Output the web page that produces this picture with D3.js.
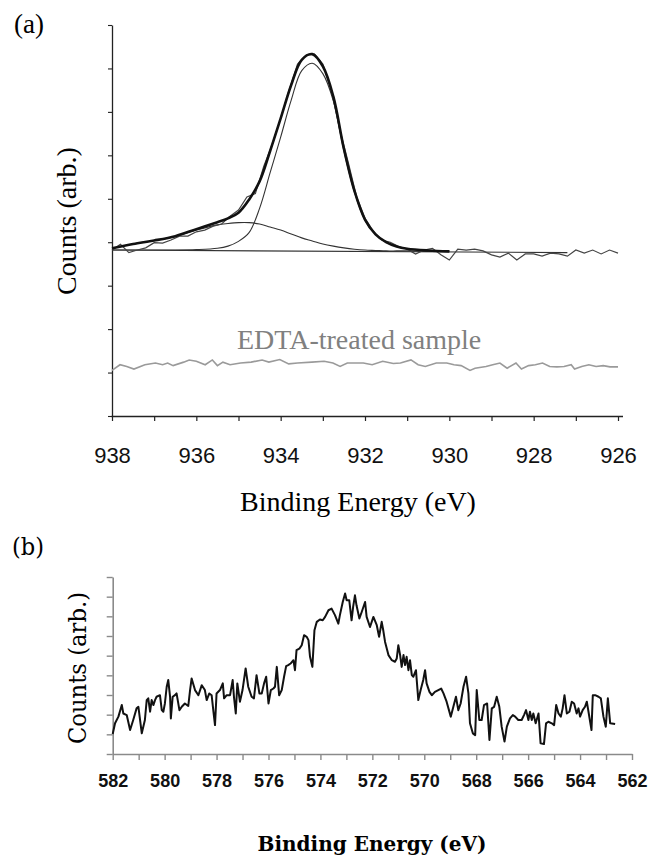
<!DOCTYPE html>
<html lang="en">
<head>
<meta charset="utf-8">
<title>XPS spectra</title>
<script src="https://d3js.org/d3.v7.min.js"></script>
<style>
  body { margin: 0; background: #fff; }
  .serifA { font-family: "Liberation Serif", "Times New Roman", serif; }
  .serifB { font-family: "DejaVu Serif", serif; }
  .sans { font-family: "Liberation Sans", Arial, sans-serif; }
</style>
</head>
<body>
<svg width="656" height="859"></svg>
<script>
// ---- panel (a): Cu 2p3/2 region ----
const xTicksA = [938, 937, 936, 935, 934, 933, 932, 931, 930, 929, 928, 927, 926];
const yTicksA = [0, 1, 2, 3, 4, 5, 6, 7, 8, 9];

// raw spectrum, [binding energy, counts]
const rawA = [
  [938.0,3.82],[937.8,3.95],[937.6,3.76],[937.4,3.82],[937.2,3.87],[937.0,3.99],[936.8,3.98],[936.6,4.05],
  [936.4,4.14],[936.2,4.14],[936.0,4.24],[935.8,4.28],[935.6,4.37],[935.4,4.42],[935.2,4.60],[935.0,4.74],
  [934.8,5.04],[934.6,5.12],[934.4,5.75],[934.2,6.25],[934.0,6.85],[933.8,7.50],[933.6,8.10],[933.4,8.30],
  [933.2,8.33],[933.0,8.10],[932.8,7.50],[932.6,6.60],[932.4,5.85],[932.2,5.05],[932.0,4.55],[931.8,4.25],
  [931.6,4.05],[931.4,4.00],[931.2,3.90],[931.0,3.84],[930.8,3.73],[930.6,3.82],[930.4,3.86],[930.2,3.71],
  [930.0,3.59],[929.8,3.84],[929.6,3.82],[929.4,3.84],[929.2,3.80],[929.0,3.71],[928.8,3.66],[928.6,3.75],
  [928.4,3.59],[928.2,3.73],[928.0,3.73],[927.8,3.68],[927.6,3.75],[927.4,3.73],[927.2,3.68],[927.0,3.82],
  [926.8,3.75],[926.6,3.82],[926.4,3.73],[926.2,3.82],[926.0,3.75]
];

// fit: energies and the fitted curves
const fitE      = [938, 937.5, 937, 936.5, 936, 935.5, 935.25, 935, 934.75, 934.5, 934.25, 934, 933.75,
                   933.5, 933.25, 933, 932.75, 932.5, 932.25, 932, 931.75, 931.5, 931.25, 931, 930.5, 930];
const fitMain   = [3.82, 3.82, 3.82, 3.82, 3.83, 3.86, 3.91, 4.02, 4.22, 4.78, 5.60, 6.42, 7.27,
                   7.95, 8.12, 7.88, 7.25, 6.10, 5.15, 4.50, 4.18, 4.00, 3.90, 3.85, 3.81, 3.80];
const fitShoulder = [3.86, 3.96, 4.04, 4.13, 4.28, 4.40, 4.43, 4.45, 4.45, 4.42, 4.35, 4.28, 4.19,
                   4.10, 4.03, 3.96, 3.91, 3.87, 3.84, 3.82, 3.81, 3.80, 3.80, 3.80, 3.79, 3.79];
const fitSum    = [3.86, 3.96, 4.04, 4.14, 4.30, 4.46, 4.55, 4.68, 4.98, 5.40, 6.10, 6.85, 7.62,
                   8.20, 8.33, 8.05, 7.35, 6.15, 5.18, 4.52, 4.18, 4.00, 3.90, 3.85, 3.81, 3.79];
const backgroundA = [[938, 3.82], [927.2, 3.76]];

// EDTA-treated sample
const edta = [
  [938.00,1.05],[937.81,1.18],[937.65,1.14],[937.48,1.08],[937.22,1.18],[936.97,1.22],[936.80,1.18],[936.68,1.22],
  [936.55,1.16],[936.30,1.24],[936.17,1.29],[936.00,1.26],[935.79,1.18],[935.62,1.29],[935.50,1.16],[935.37,1.24],
  [935.20,1.18],[934.95,1.22],[934.70,1.24],[934.44,1.29],[934.28,1.24],[934.02,1.30],[933.81,1.20],[933.60,1.22],
  [933.26,1.24],[932.97,1.26],[932.76,1.22],[932.59,1.14],[932.42,1.22],[932.25,1.22],[932.04,1.22],[931.83,1.18],
  [931.58,1.26],[931.33,1.21],[931.16,1.22],[930.91,1.29],[930.74,1.18],[930.57,1.14],[930.31,1.22],[930.06,1.22],
  [929.89,1.18],[929.72,1.16],[929.51,1.05],[929.39,1.10],[929.13,1.14],[928.97,1.18],[928.80,1.22],[928.63,1.10],
  [928.42,1.22],[928.29,1.08],[928.12,1.16],[927.96,1.18],[927.79,1.22],[927.62,1.14],[927.45,1.13],[927.28,1.14],
  [927.11,1.18],[927.03,1.08],[926.86,1.14],[926.69,1.18],[926.52,1.14],[926.35,1.16],[926.19,1.13],[926.00,1.13]
];

// ---- panel (b) ----
const xTicksB = [582,581,580,579,578,577,576,575,574,573,572,571,570,569,568,567,566,565,564,563,562];
const yTicksB = [0, 1, 2, 3, 4, 5, 6, 7, 8, 9];
const spectrumB = [
  [582.00,1.02],[581.91,1.56],[581.78,1.90],[581.65,2.49],[581.59,2.06],[581.46,1.98],[581.33,1.22],[581.21,1.73],
  [581.08,2.32],[581.01,2.40],[580.88,1.05],[580.76,1.73],[580.69,2.74],[580.63,2.83],[580.56,2.15],[580.50,2.74],
  [580.43,2.49],[580.37,2.74],[580.31,2.91],[580.18,2.99],[580.11,2.23],[580.05,2.15],[579.99,2.57],[579.92,3.42],
  [579.86,3.76],[579.79,2.91],[579.76,1.81],[579.69,2.91],[579.60,2.99],[579.54,3.08],[579.43,2.23],[579.34,2.40],
  [579.22,2.57],[579.09,2.44],[579.02,3.25],[578.96,3.84],[578.83,3.25],[578.70,2.99],[578.57,3.50],[578.45,3.25],
  [578.38,2.74],[578.28,3.08],[578.19,2.99],[578.12,2.15],[578.06,1.47],[578.00,3.08],[577.87,3.25],[577.76,3.59],
  [577.71,2.83],[577.61,2.99],[577.48,2.99],[577.38,3.76],[577.33,2.91],[577.26,2.06],[577.20,3.59],[577.10,2.66],
  [577.00,3.25],[576.88,4.35],[576.78,3.42],[576.65,2.91],[576.56,2.83],[576.46,4.01],[576.35,3.08],[576.26,3.08],
  [576.17,3.59],[576.09,3.93],[576.00,2.57],[575.91,3.25],[575.81,3.33],[575.75,3.42],[575.68,4.43],[575.59,2.99],
  [575.49,3.25],[575.40,3.93],[575.32,4.47],[575.24,4.52],[575.15,4.60],[575.04,4.77],[574.98,4.26],[574.92,5.28],
  [574.81,5.36],[574.72,5.53],[574.63,6.04],[574.53,5.96],[574.46,5.79],[574.40,4.94],[574.31,4.43],[574.23,6.29],
  [574.14,6.72],[574.02,6.84],[573.91,6.80],[573.82,6.97],[573.69,7.31],[573.57,7.39],[573.44,7.06],[573.31,6.63],
  [573.25,7.06],[573.14,7.73],[573.05,8.16],[572.99,7.82],[572.89,7.82],[572.80,6.80],[572.74,7.48],[572.67,8.07],
  [572.61,7.56],[572.50,6.89],[572.41,7.22],[572.28,7.73],[572.22,6.97],
  [572.09,6.46],[571.96,6.97],[571.83,6.55],[571.74,5.96],[571.64,6.72],[571.58,6.29],[571.51,5.70],[571.38,5.03],
  [571.25,4.77],[571.13,4.69],[571.06,4.86],[571.00,5.53],[570.93,5.03],[570.87,4.43],[570.80,5.03],[570.74,4.52],
  [570.68,4.94],[570.61,4.26],[570.55,4.77],[570.48,4.01],[570.42,3.93],[570.32,4.26],[570.23,2.74],[570.14,3.25],
  [570.04,3.76],[569.97,4.26],[569.91,3.59],[569.80,3.16],[569.71,2.99],[569.59,3.16],[569.46,3.25],[569.35,3.33],
  [569.26,3.08],[569.14,2.66],[568.98,1.90],[568.88,2.40],[568.78,2.91],[568.69,2.23],[568.60,2.57],[568.49,3.42],
  [568.39,3.93],[568.30,3.08],[568.24,1.56],[568.13,1.05],[568.04,0.96],[567.98,3.25],[567.88,1.73],[567.79,1.73],
  [567.70,2.49],[567.58,2.57],[567.49,0.71],[567.40,2.32],[567.31,2.40],[567.21,2.91],[567.11,2.40],[567.02,1.39],
  [566.91,0.63],[566.82,1.39],[566.70,1.81],[566.59,1.98],[566.50,1.90],[566.38,1.73],[566.25,1.73],[566.16,1.98],
  [566.08,2.23],[565.99,1.73],[565.93,2.15],[565.86,1.73],[565.80,2.06],[565.71,1.56],[565.60,2.06],[565.52,0.54],
  [565.39,0.51],[565.31,1.56],[565.22,1.64],[565.09,1.56],[565.00,1.47],[564.92,2.49],[564.83,2.06],[564.74,1.90],
  [564.67,2.32],[564.60,2.99],[564.51,2.06],[564.41,2.15],[564.32,2.66],[564.23,2.57],[564.13,2.06],[564.06,2.32],
  [564.00,1.90],[563.90,2.23],[563.81,2.40],[563.74,2.66],[563.56,1.22],[563.51,2.99],[563.42,2.99],[563.29,2.91],
  [563.20,2.83],[563.10,1.90],[563.01,1.39],[562.93,2.83],[562.84,1.56],[562.65,1.52]
];

const svg = d3.select("svg");

//---------- panel (a)
const xA = d3.scaleLinear().domain([938, 926]).range([112, 618]);
const yA = d3.scaleLinear().domain([0, 9]).range([416, 25]);

const gA = svg.append("g");

const axA = gA.append("g")
    .attr("transform", "translate(0,416)")
    .call(d3.axisBottom(xA).tickValues(xTicksA).tickSize(5).tickSizeOuter(0)
          .tickFormat(d => d % 2 === 0 ? d : ""));
axA.select(".domain").attr("d", "M111.5,0.5H623").attr("stroke", "#222").attr("stroke-width", 1.3);
axA.selectAll(".tick line").attr("stroke", "#222").attr("stroke-width", 1.2);
axA.selectAll(".tick text").attr("class", "sans").attr("font-size", 22).attr("fill", "#111").attr("y", 31);

const ayA = gA.append("g")
    .attr("transform", "translate(112,0)")
    .call(d3.axisLeft(yA).tickValues(yTicksA).tickSize(4).tickSizeOuter(0).tickFormat(""));
ayA.select(".domain").attr("stroke", "#222").attr("stroke-width", 1.3);
ayA.selectAll(".tick line").attr("stroke", "#222").attr("stroke-width", 1.1);

const lineA = d3.line().x(d => xA(d[0])).y(d => yA(d[1]));
const smoothA = d3.line().x(d => xA(d[0])).y(d => yA(d[1])).curve(d3.curveCatmullRom.alpha(0.5));

gA.append("path").datum(edta)
    .attr("d", lineA).attr("fill", "none").attr("stroke", "#9a9a9a").attr("stroke-width", 1.6);

gA.append("path").datum(backgroundA)
    .attr("d", lineA).attr("fill", "none").attr("stroke", "#333").attr("stroke-width", 1.1);

gA.append("path").datum(fitE.map((e, i) => [e, fitShoulder[i]]))
    .attr("d", smoothA).attr("fill", "none").attr("stroke", "#333").attr("stroke-width", 1.1);

gA.append("path").datum(fitE.map((e, i) => [e, fitMain[i]]))
    .attr("d", smoothA).attr("fill", "none").attr("stroke", "#333").attr("stroke-width", 1.1);

gA.append("path").datum(rawA)
    .attr("d", lineA).attr("fill", "none").attr("stroke", "#444").attr("stroke-width", 1.2);

gA.append("path").datum(fitE.map((e, i) => [e, fitSum[i]]))
    .attr("d", smoothA).attr("fill", "none").attr("stroke", "#111").attr("stroke-width", 2.6);

gA.append("text").attr("class", "serifA").attr("x", 237).attr("y", 349)
    .attr("font-size", 28).attr("fill", "#808080").text("EDTA-treated sample");

gA.append("text").attr("class", "serifA").attr("x", 14).attr("y", 33)
    .attr("font-size", 27).text("(a)");

gA.append("text").attr("class", "serifA").attr("text-anchor", "middle")
    .attr("transform", "translate(76,221) rotate(-90)")
    .attr("font-size", 28).text("Counts (arb.)");

gA.append("text").attr("class", "serifA").attr("text-anchor", "middle")
    .attr("x", 358).attr("y", 511).attr("font-size", 28).text("Binding Energy (eV)");

//---------- panel (b)
const xB = d3.scaleLinear().domain([582, 562]).range([112.7, 632]);
const yB = d3.scaleLinear().domain([0, 9]).range([754, 577]);

const gB = svg.append("g");

const axB = gB.append("g")
    .attr("transform", "translate(0,754)")
    .call(d3.axisBottom(xB).tickValues(xTicksB).tickSize(6).tickSizeOuter(0)
          .tickFormat(d => d % 2 === 0 ? d : ""));
axB.select(".domain").attr("stroke", "#8a8a8a").attr("stroke-width", 1.6);
axB.selectAll(".tick line").attr("stroke", "#8a8a8a").attr("stroke-width", 1.4);
axB.selectAll(".tick text").attr("class", "sans").attr("font-size", 18).attr("font-weight", "bold")
    .attr("fill", "#111").attr("y", 20);

const ayB = gB.append("g")
    .attr("transform", "translate(112.7,0)")
    .call(d3.axisLeft(yB).tickValues(yTicksB).tickSize(6).tickSizeOuter(0).tickFormat(""));
ayB.select(".domain").attr("stroke", "#8a8a8a").attr("stroke-width", 1.6);
ayB.selectAll(".tick line").attr("stroke", "#8a8a8a").attr("stroke-width", 1.4);

const lineB = d3.line().x(d => xB(d[0])).y(d => yB(d[1]));
gB.append("path").datum(spectrumB)
    .attr("d", lineB).attr("fill", "none").attr("stroke", "#111").attr("stroke-width", 2)
    .attr("stroke-linejoin", "round");

gB.append("text").attr("class", "serifB").attr("x", 12).attr("y", 555)
    .attr("font-size", 25).attr("textLength", 32).attr("lengthAdjust", "spacingAndGlyphs").text("(b)");

gB.append("text").attr("class", "serifB").attr("text-anchor", "middle")
    .attr("transform", "translate(86,668) rotate(-90)")
    .attr("font-size", 25).attr("textLength", 152).attr("lengthAdjust", "spacingAndGlyphs")
    .text("Counts (arb.)");

gB.append("text").attr("class", "serifB").attr("text-anchor", "middle")
    .attr("x", 372).attr("y", 851).attr("font-size", 20).attr("font-weight", "bold")
    .text("Binding Energy (eV)");
</script>
</body>
</html>
